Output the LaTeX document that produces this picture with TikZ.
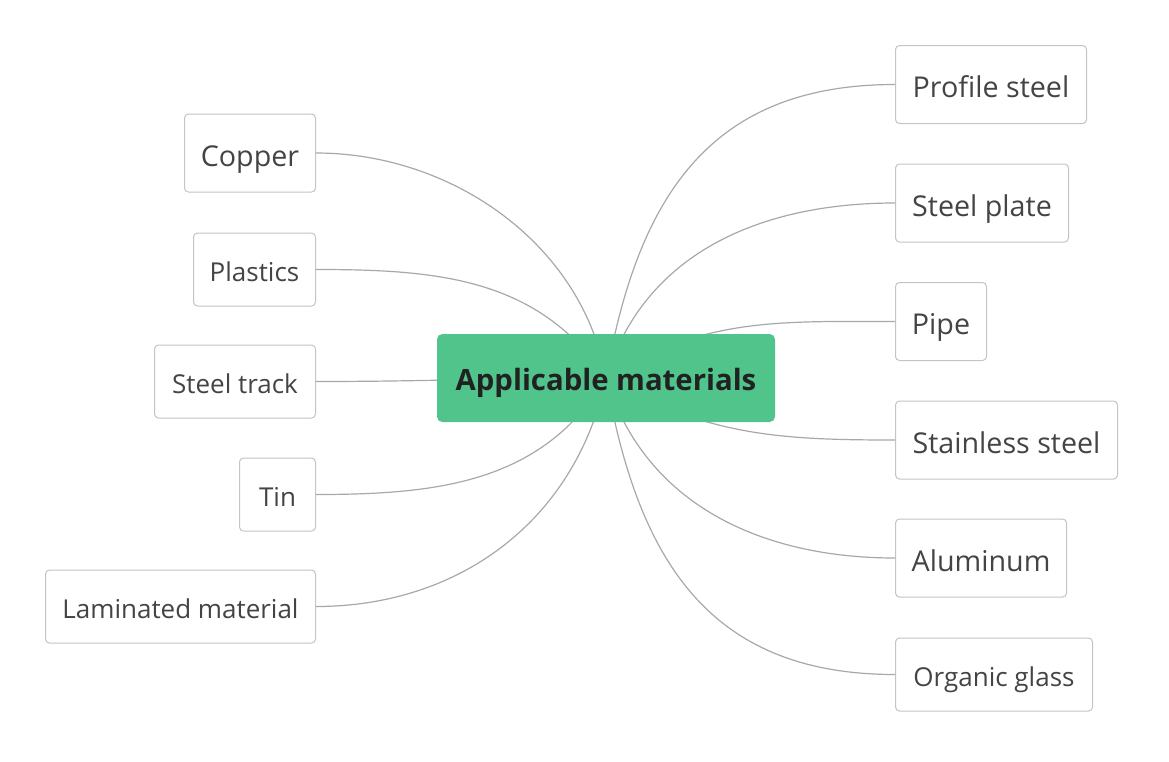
\documentclass[tikz,border=0pt]{standalone}
\usepackage{fontspec}
\setmainfont{Open Sans}
\usetikzlibrary{backgrounds}

\definecolor{mintgreen}{HTML}{50C48B}
\definecolor{linegray}{HTML}{A8A8A8}
\definecolor{boxgray}{HTML}{C4C4C4}
\definecolor{textgray}{HTML}{444444}

\tikzset{
  material/.style={draw=boxgray, line width=0.75pt, rounded corners=3pt, fill=white,
    text=textgray, inner sep=0pt, minimum height=58.5pt, text depth=0pt},
  bigmat/.style={material, text height=19.5pt, font=\fontsize{21.5}{24}\selectfont},
  smallmat/.style={material, minimum height=54.75pt, text height=17.6pt, font=\fontsize{19.5}{22}\selectfont},
  branch/.style={draw=linegray, line width=0.9pt},
}

\begin{document}
\begin{tikzpicture}[x=0.75pt, y=-0.75pt]
\useasboundingbox (0,0) rectangle (1169,761);

% centre topic
\node[fill=mintgreen, rounded corners=4pt, minimum width=253.5pt, minimum height=66pt,
  text height=18.2pt, text depth=0pt,
  text=black!87, font=\bfseries\fontsize{22}{26}\selectfont] (mat) at (606,378) {Applicable materials};

% right branches
\node[bigmat, anchor=west, minimum width=143.25pt] (profile) at (895,84.5) {Profile steel};
\node[bigmat, anchor=west, minimum width=129.75pt] (plate) at (895,203) {Steel plate};
\node[bigmat, anchor=west, minimum width=68.25pt] (pipe) at (895,321.5) {Pipe};
\node[bigmat, anchor=west, minimum width=166.5pt] (stainless) at (895,440) {Stainless steel};
\node[bigmat, anchor=west, minimum width=128.25pt] (alu) at (895,558) {Aluminum};
\node[smallmat, anchor=west, minimum width=147.75pt] (glass) at (895,674.5) {Organic glass};

% left branches
\node[bigmat, anchor=east, minimum width=98.25pt] (copper) at (316,153) {Copper};
\node[smallmat, anchor=east, minimum width=91.5pt] (plastics) at (316,269.5) {Plastics};
\node[smallmat, anchor=east, minimum width=120.75pt] (track) at (316,381.5) {Steel track};
\node[smallmat, anchor=east, minimum width=57pt] (tin) at (316,494.5) {Tin};
\node[smallmat, anchor=east, minimum width=202.5pt] (laminated) at (316,606.5) {Laminated material};

\begin{scope}[on background layer]
\draw[branch] (mat.center) to[out=80, in=180, looseness=1.15] (profile.west);
\draw[branch] (mat.center) to[out=73, in=180] (plate.west);
\draw[branch] (mat.center) to[out=32, in=180] (pipe.west);
\draw[branch] (mat.center) to[out=-30, in=180] (stainless.west);
\draw[branch] (mat.center) to[out=-73, in=180] (alu.west);
\draw[branch] (mat.center) to[out=-80, in=180, looseness=1.15] (glass.west);

\draw[branch] (mat.center) to[out=100, in=0, looseness=0.95] (copper.east);
\draw[branch] (mat.center) to[out=124, in=0] (plastics.east);
\draw[branch] (mat.center) to[out=180, in=0] (track.east);
\draw[branch] (mat.center) to[out=239, in=0] (tin.east);
\draw[branch] (mat.center) to[out=258, in=0] (laminated.east);
\end{scope}
\end{tikzpicture}
\end{document}
